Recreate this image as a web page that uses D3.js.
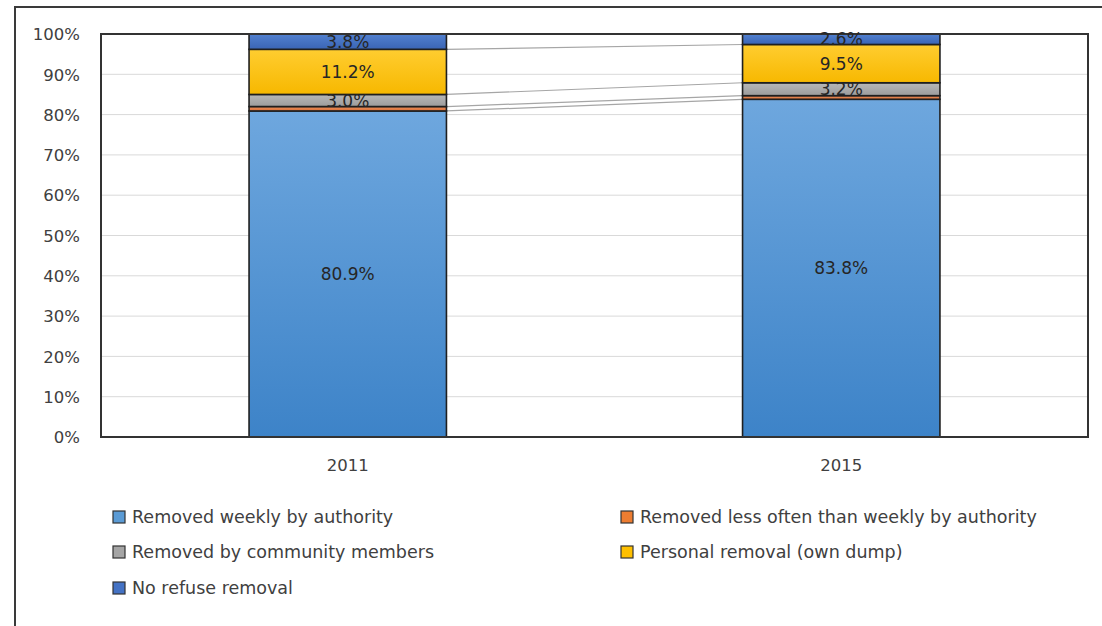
<!DOCTYPE html>
<html>
<head>
<meta charset="utf-8">
<script src="https://cdn.jsdelivr.net/npm/d3@7"></script>
<style>
  html, body { margin: 0; padding: 0; background: #fff; }
  svg { display: block; font-family: "DejaVu Sans", sans-serif; }
</style>
</head>
<body>
<svg id="chart" width="1102" height="626"></svg>
<script>
// Refuse removal by household share, stacked to 100%
const years = ["2011", "2015"];
const seriesNames = [
  "Removed weekly by authority",
  "Removed less often than weekly by authority",
  "Removed by community members",
  "Personal removal (own dump)",
  "No refuse removal"
];
const weekly     = [80.9, 83.8];
const lessOften  = [1.1, 0.9];
const community  = [3.0, 3.2];
const personal   = [11.2, 9.5];
const noRemoval  = [3.8, 2.6];
const labelShown = [true, false, true, true, true];
const yTicks = [0, 10, 20, 30, 40, 50, 60, 70, 80, 90, 100];

const seriesValues = [weekly, lessOften, community, personal, noRemoval];
const rows = years.map((y, i) => {
  const r = { year: y };
  seriesNames.forEach((s, k) => { r[s] = seriesValues[k][i]; });
  return r;
});

const svg = d3.select("#chart");
const W = 1102, H = 626;
const plot = { left: 101, right: 1088, top: 34, bottom: 437 };

const colors = ["#5b9bd5", "#ed7d31", "#a5a5a5", "#ffc000", "#4472c4"];
const gradStops = [
  ["#6ea7de", "#3d83c8"],
  ["#f0905a", "#d7703a"],
  ["#b8b8b8", "#9c9c9c"],
  ["#ffcd30", "#f7b800"],
  ["#5281d0", "#3a64b4"]
];

const defs = svg.append("defs");
gradStops.forEach((st, k) => {
  const g = defs.append("linearGradient")
    .attr("id", "grad" + k)
    .attr("x1", 0).attr("y1", 0).attr("x2", 0).attr("y2", 1);
  g.append("stop").attr("offset", "0%").attr("stop-color", st[0]);
  g.append("stop").attr("offset", "100%").attr("stop-color", st[1]);
});

// Outer frame (top and left edges)
svg.append("path")
  .attr("d", `M15,${H + 2} L15,7 L${W + 2},7`)
  .attr("fill", "none")
  .attr("stroke", "#3a3a3a")
  .attr("stroke-width", 2);

const x = d3.scaleBand()
  .domain(years)
  .range([plot.left, plot.right])
  .paddingInner(0.6)
  .paddingOuter(0.3);

const y = d3.scaleLinear()
  .domain([0, 100])
  .range([plot.bottom, plot.top]);

// Gridlines
svg.append("g")
  .selectAll("line")
  .data(yTicks.filter(t => t > 0 && t < 100))
  .join("line")
  .attr("x1", plot.left).attr("x2", plot.right)
  .attr("y1", d => y(d)).attr("y2", d => y(d))
  .attr("stroke", "#d9d9d9")
  .attr("stroke-width", 1);

// Y axis labels
const yAxis = d3.axisLeft(y)
  .tickValues(yTicks)
  .tickFormat(d => d + "%")
  .tickSize(0)
  .tickPadding(0);
const gy = svg.append("g")
  .attr("transform", `translate(80,0)`)
  .call(yAxis);
gy.select(".domain").remove();
gy.selectAll("text")
  .attr("font-family", "DejaVu Sans, sans-serif")
  .attr("font-size", 16.5)
  .attr("fill", "#404040")
  .attr("dy", "0.35em");

// X axis labels
const xAxis = d3.axisBottom(x).tickSize(0).tickPadding(0);
const gx = svg.append("g")
  .attr("transform", `translate(0,459)`)
  .call(xAxis);
gx.select(".domain").remove();
gx.selectAll("text")
  .attr("font-family", "DejaVu Sans, sans-serif")
  .attr("font-size", 16.5)
  .attr("fill", "#404040")
  .attr("dy", "0.7em");

const stacked = d3.stack().keys(seriesNames)(rows);

// Series lines joining segment tops between the two bars
const x0 = x(years[0]) + x.bandwidth();
const x1 = x(years[1]);
svg.append("g")
  .selectAll("line")
  .data(stacked)
  .join("line")
  .attr("x1", x0).attr("x2", x1)
  .attr("y1", s => y(s[0][1]))
  .attr("y2", s => y(s[1][1]))
  .attr("stroke", "#a6a6a6")
  .attr("stroke-width", 1.2);

// Stacked bars
const layers = svg.append("g")
  .selectAll("g")
  .data(stacked)
  .join("g")
  .attr("fill", (s, k) => `url(#grad${k})`);

layers.selectAll("rect")
  .data(s => s.map(d => ({ d, key: s.key })))
  .join("rect")
  .attr("x", p => x(p.d.data.year))
  .attr("width", x.bandwidth())
  .attr("y", p => y(p.d[1]))
  .attr("height", p => y(p.d[0]) - y(p.d[1]))
  .attr("stroke", "#1f1f1f")
  .attr("stroke-width", 1.6);

// Plot area border
svg.append("rect")
  .attr("x", plot.left).attr("y", plot.top)
  .attr("width", plot.right - plot.left)
  .attr("height", plot.bottom - plot.top)
  .attr("fill", "none")
  .attr("stroke", "#333")
  .attr("stroke-width", 2);

// Data labels
const labelData = [];
stacked.forEach((s, k) => {
  if (!labelShown[k]) return;
  s.forEach(d => labelData.push({ d, k }));
});
svg.append("g")
  .selectAll("text")
  .data(labelData)
  .join("text")
  .attr("x", p => x(p.d.data.year) + x.bandwidth() / 2)
  .attr("y", p => y((p.d[0] + p.d[1]) / 2))
  .attr("dy", "0.36em")
  .attr("text-anchor", "middle")
  .attr("font-size", 17)
  .attr("fill", "#262626")
  .text(p => (p.d[1] - p.d[0]).toFixed(1) + "%");

// Legend
const legendPos = [
  [113, 517], [621, 517],
  [113, 552], [621, 552],
  [113, 588]
];
const legend = svg.append("g")
  .selectAll("g")
  .data(seriesNames)
  .join("g")
  .attr("transform", (d, i) => `translate(${legendPos[i][0]},${legendPos[i][1]})`);
legend.append("rect")
  .attr("x", 0).attr("y", -6)
  .attr("width", 12).attr("height", 12)
  .attr("fill", (d, i) => colors[i])
  .attr("stroke", "#333")
  .attr("stroke-width", 1.2);
legend.append("text")
  .attr("x", 19)
  .attr("dy", "0.36em")
  .attr("font-size", 17.5)
  .attr("fill", "#404040")
  .text(d => d);
</script>
</body>
</html>
